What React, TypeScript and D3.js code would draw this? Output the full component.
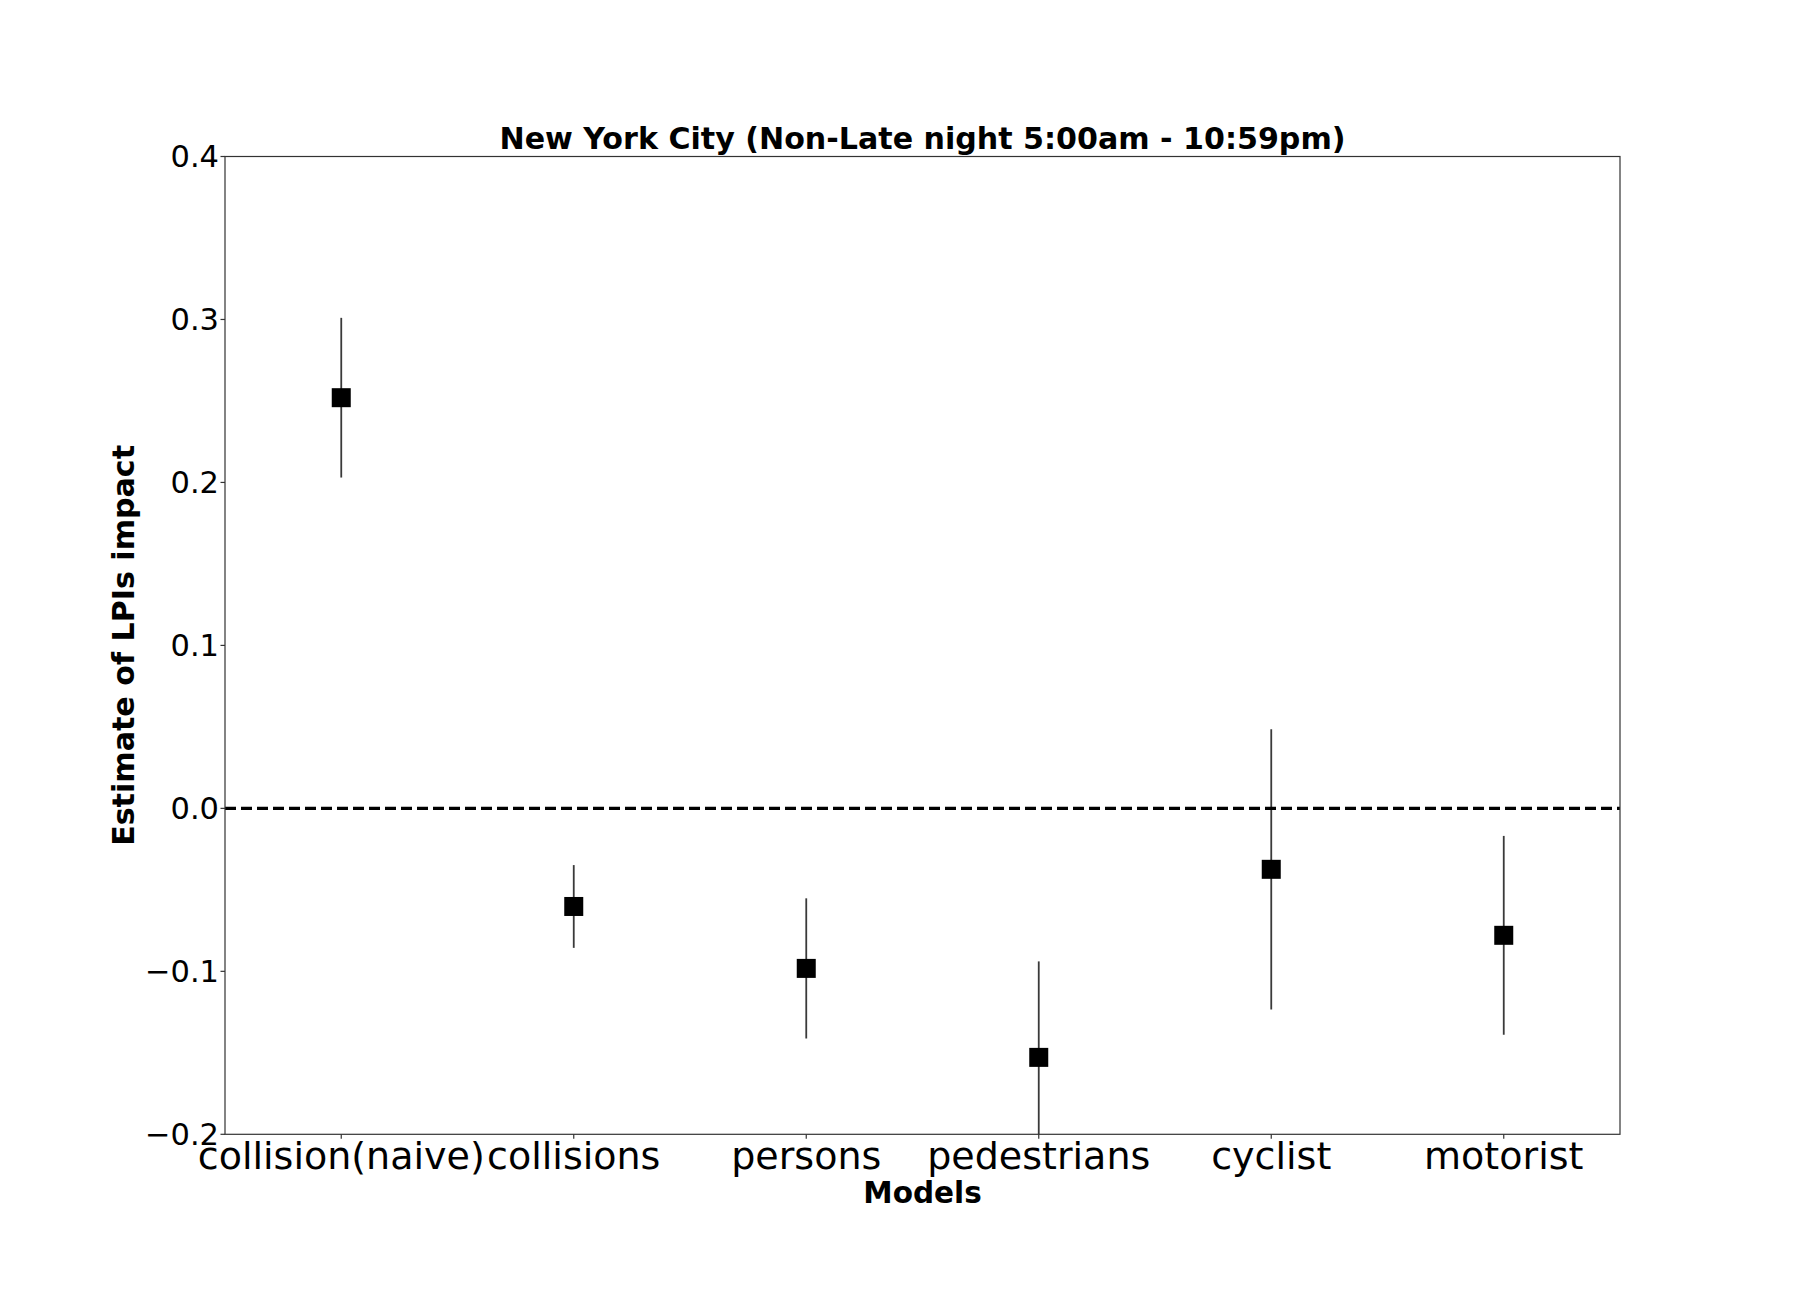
import React from "react";
import * as d3 from "d3";

const categories = ["collision(naive)", "collisions", "persons", "pedestrians", "cyclist", "motorist"];
const estimates = [0.252, -0.0602, -0.0982, -0.1528, -0.0374, -0.0779];
const errors = [0.049, 0.0254, 0.043, 0.0589, 0.086, 0.061];
const yTicks = [-0.2, -0.1, 0.0, 0.1, 0.2, 0.3, 0.4];
const titleText = "New York City (Non-Late night 5:00am - 10:59pm)";
const xLabel = "Models";
const yLabel = "Estimate of LPIs impact";

const W = 1800;
const H = 1296;
const left = 225;
const right = 1620;
const top = 156.5;
const bottom = 1134.3;
const FONT = "DejaVu Sans, sans-serif";

export default function App() {
  const x = d3.scaleLinear().domain([-0.5, categories.length - 0.5]).range([left, right]);
  const y = d3.scaleLinear().domain([-0.2, 0.4]).range([bottom, top]);
  const fmt = d3.format(".1f");
  const ms = 19;

  return (
    <svg
      width={W}
      height={H}
      style={{ position: "absolute", left: 0, top: 0, background: "#fff" }}
      fontFamily={FONT}
    >
      <defs>
        <clipPath id="plotclip">
          <rect x={left} y={top} width={right - left} height={bottom - top} />
        </clipPath>
      </defs>
      <rect x={0} y={0} width={W} height={H} fill="#fff" />

      <g clipPath="url(#plotclip)">
        {categories.map((c, i) => (
          <line
            key={"e" + c}
            x1={x(i)}
            x2={x(i)}
            y1={y(estimates[i] + errors[i])}
            y2={y(estimates[i] - errors[i])}
            stroke="#3a3a3a"
            strokeWidth={1.8}
          />
        ))}
        <line
          x1={left}
          x2={right}
          y1={y(0)}
          y2={y(0)}
          stroke="#000"
          strokeWidth={3.2}
          strokeDasharray="11 5"
        />
        {categories.map((c, i) => (
          <rect
            key={"m" + c}
            x={x(i) - ms / 2}
            y={y(estimates[i]) - ms / 2}
            width={ms}
            height={ms}
            fill="#000"
          />
        ))}
      </g>

      <rect
        x={left}
        y={top}
        width={right - left}
        height={bottom - top}
        fill="none"
        stroke="#333"
        strokeWidth={1.2}
      />

      {yTicks.map((t) => (
        <g key={"yt" + t}>
          <line x1={left - 4.5} x2={left} y1={y(t)} y2={y(t)} stroke="#333" strokeWidth={1.2} />
          <text
            x={left - 6}
            y={y(t)}
            dy="0.36em"
            textAnchor="end"
            fontSize={30.5}
            fill="#000"
          >
            {fmt(t)}
          </text>
        </g>
      ))}

      {categories.map((c, i) => (
        <g key={"xt" + c}>
          <line x1={x(i)} x2={x(i)} y1={bottom} y2={bottom + 4.5} stroke="#333" strokeWidth={1.2} />
          <text x={x(i)} y={1169} textAnchor="middle" fontSize={38} fill="#000">
            {c}
          </text>
        </g>
      ))}

      <text
        x={(left + right) / 2}
        y={148.5}
        textAnchor="middle"
        fontSize={30.1}
        fontWeight="bold"
        fill="#000"
      >
        {titleText}
      </text>
      <text
        x={(left + right) / 2}
        y={1203}
        textAnchor="middle"
        fontSize={29.5}
        fontWeight="bold"
        fill="#000"
      >
        {xLabel}
      </text>
      <text
        transform={`translate(134,${(top + bottom) / 2}) rotate(-90)`}
        textAnchor="middle"
        fontSize={30.1}
        fontWeight="bold"
        fill="#000"
      >
        {yLabel}
      </text>
    </svg>
  );
}
